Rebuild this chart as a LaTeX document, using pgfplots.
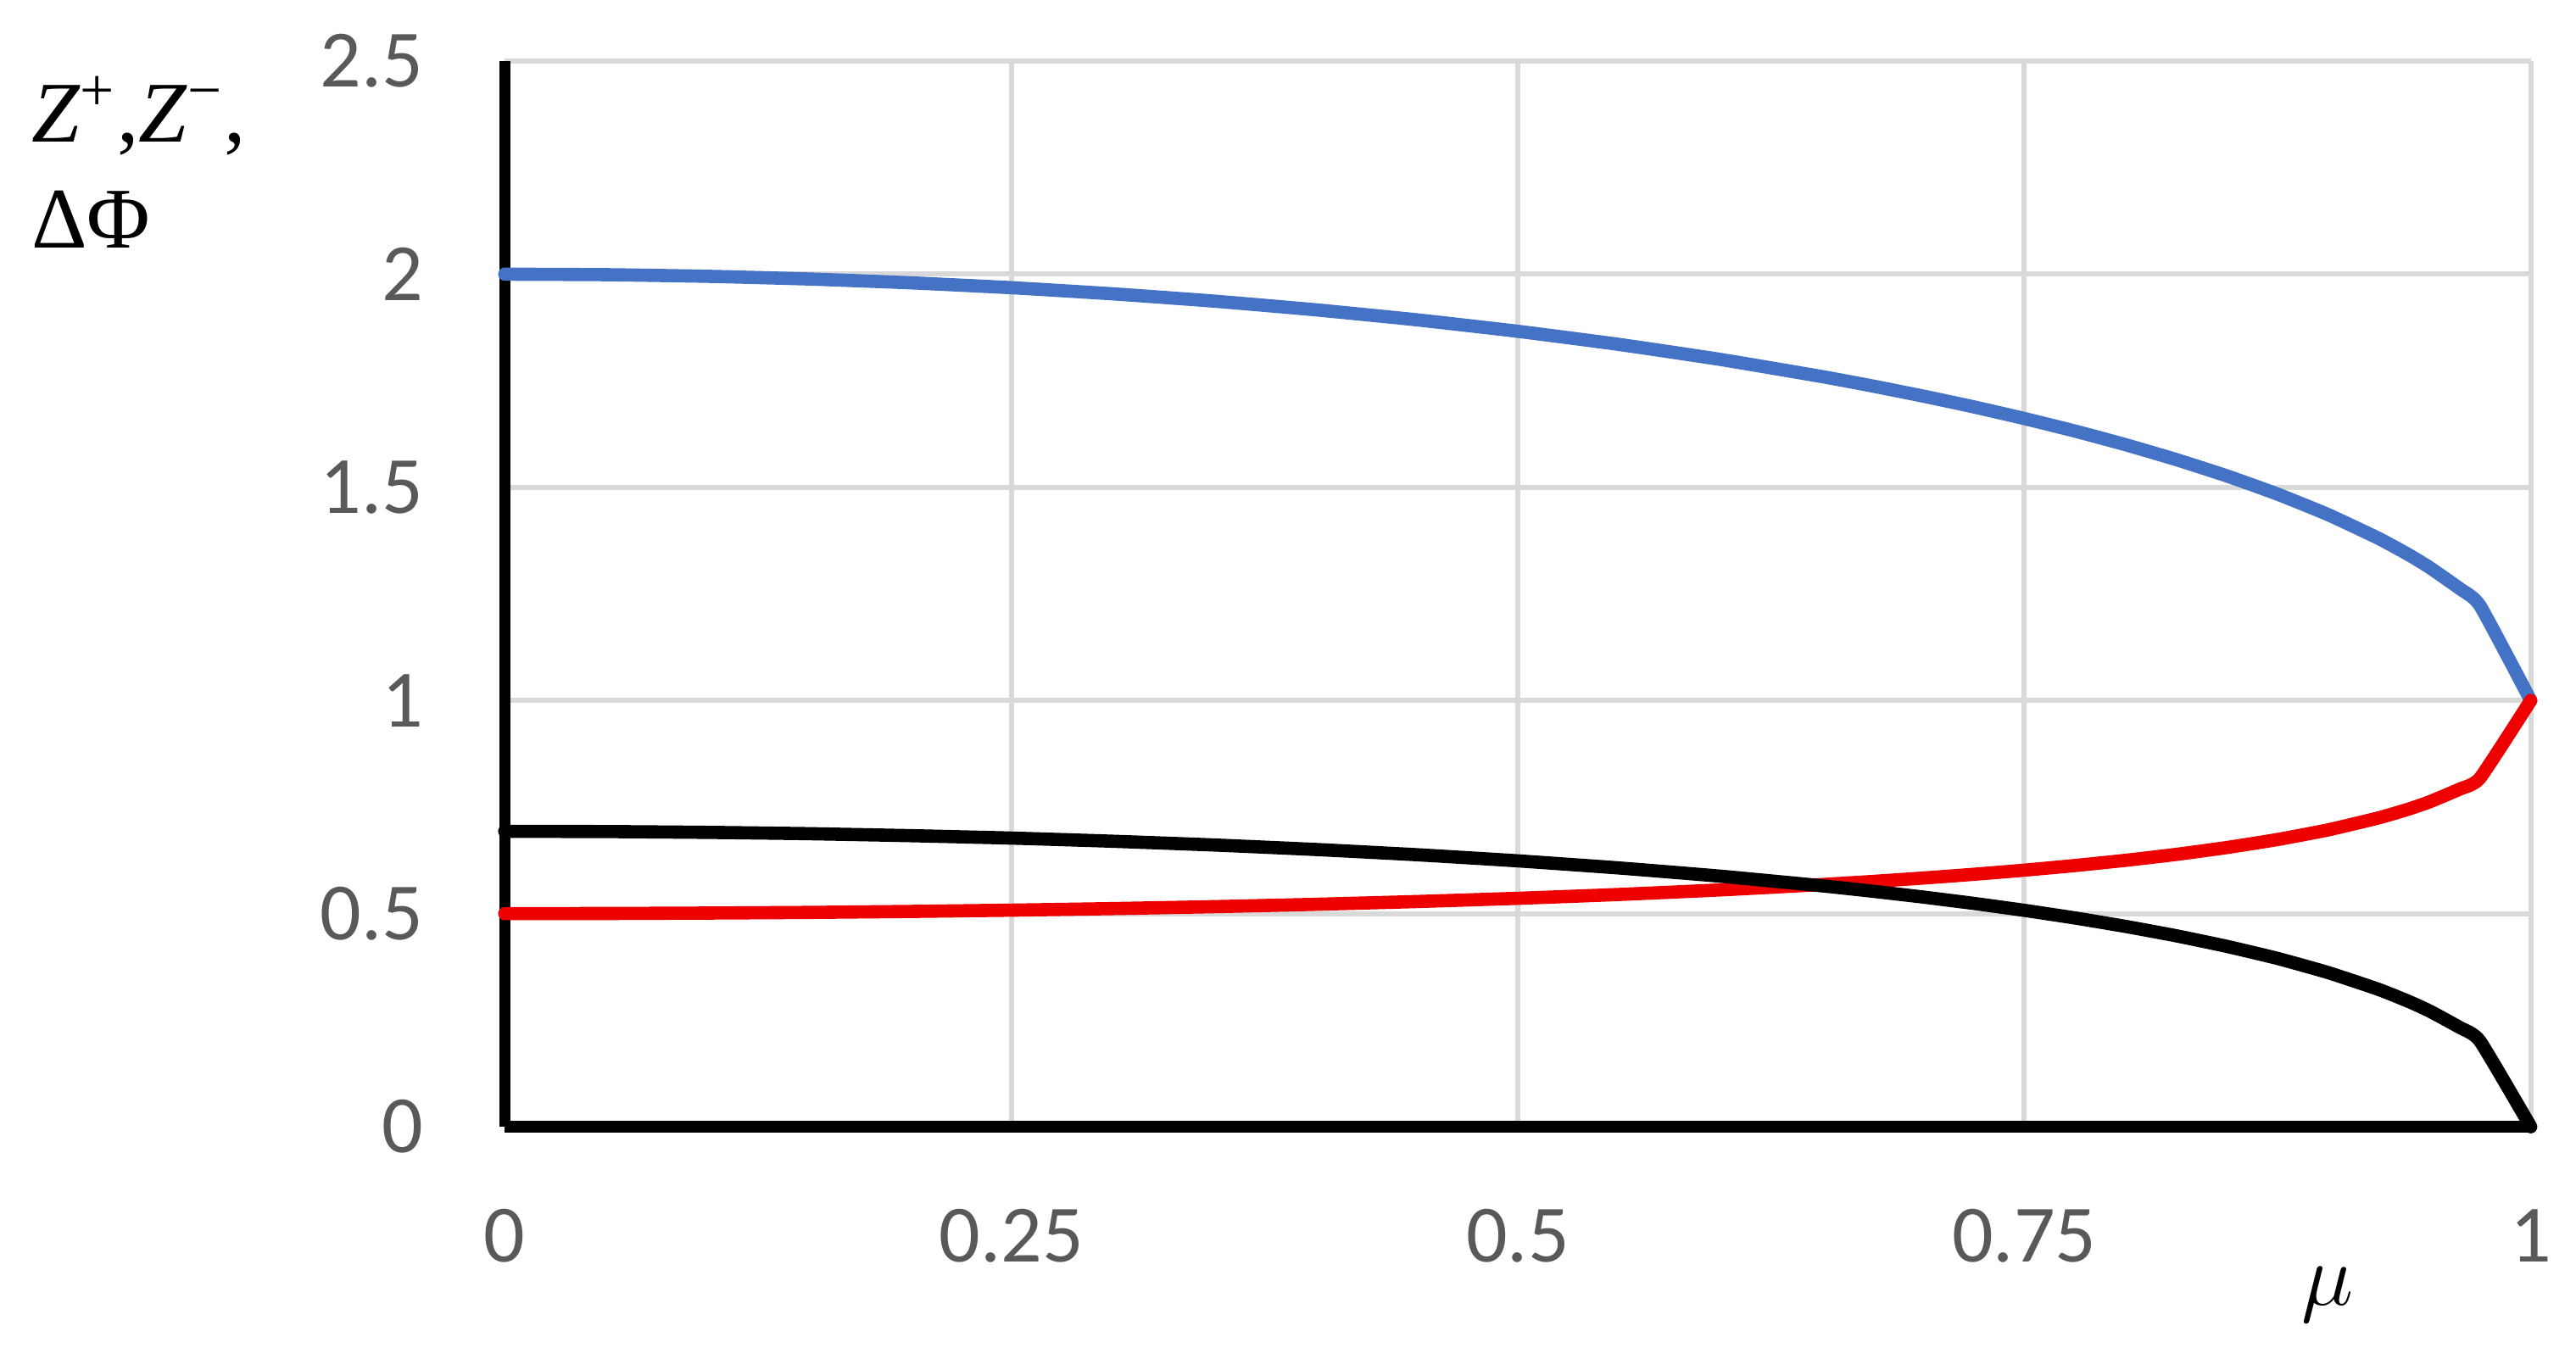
\documentclass[border=0pt]{standalone}
\usepackage{pgfplots}
\pgfplotsset{compat=1.18}
\usepackage{fontspec}
\setmainfont{Carlito}
\newfontfamily\serif{Liberation Serif}
\definecolor{exblue}{HTML}{4472C4}
\definecolor{exred}{HTML}{EE0000}
\definecolor{exgrid}{HTML}{D9D9D9}
\definecolor{extick}{HTML}{595959}
\begin{document}
\begin{tikzpicture}
\useasboundingbox (-99.2pt,-45.5pt) rectangle (407.1pt,221.5pt);
\begin{axis}[
  at={(0,0)}, anchor=south west,
  scale only axis, width=398.2pt, height=209.5pt,
  xmin=0, xmax=1, ymin=0, ymax=2.5,
  xtick={0,0.25,0.5,0.75,1},
  ytick={0,0.5,1,1.5,2,2.5},
  xticklabels={0,0.25,0.5,0.75,1},
  yticklabels={0,0.5,1,1.5,2,2.5},
  axis x line*=bottom, axis y line*=left,
  axis line style={black, line width=2.2pt, -},
  major tick length=0pt,
  grid=major,
  major grid style={exgrid, line width=1pt},
  tick label style={font=\fontsize{16}{18}\selectfont, text=extick, inner sep=0pt},
  xticklabel style={anchor=north, yshift=-16pt},
  yticklabel style={anchor=east, xshift=-15.8pt},
  clip=false,
  every axis plot/.append style={line width=2.6pt, line join=round, line cap=round, smooth, tension=0.3},
]
\addplot[exblue] coordinates {
(0,2.0000) (0.05,1.9988) (0.1,1.9950) (0.15,1.9887) (0.2,1.9798) (0.25,1.9683)
(0.3,1.9539) (0.35,1.9368) (0.4,1.9165) (0.45,1.8930) (0.5,1.8660) (0.55,1.8352)
(0.6,1.8000) (0.65,1.7599) (0.675,1.7378) (0.7,1.7141) (0.725,1.6888) (0.75,1.6614)
(0.775,1.6320) (0.8,1.6000) (0.825,1.5651) (0.85,1.5268) (0.875,1.4841)
(0.9,1.4359) (0.925,1.3800) (0.94,1.3412) (0.95,1.3122) (0.965,1.2622) (0.975,1.2222) (1,1.0000)};
\addplot[exred] coordinates {
(0,0.5000) (0.05,0.5003) (0.1,0.5013) (0.15,0.5028) (0.2,0.5051) (0.25,0.5081)
(0.3,0.5118) (0.35,0.5163) (0.4,0.5218) (0.45,0.5283) (0.5,0.5359) (0.55,0.5449)
(0.6,0.5556) (0.65,0.5682) (0.675,0.5754) (0.7,0.5834) (0.725,0.5922) (0.75,0.6019)
(0.775,0.6128) (0.8,0.6250) (0.825,0.6389) (0.85,0.6550) (0.875,0.6738)
(0.9,0.6964) (0.925,0.7247) (0.94,0.7456) (0.95,0.7621) (0.965,0.7922) (0.975,0.8182) (1,1.0000)};
\addplot[black] coordinates {
(0,0.6931) (0.05,0.6925) (0.1,0.6906) (0.15,0.6875) (0.2,0.6829) (0.25,0.6772)
(0.3,0.6698) (0.35,0.6610) (0.4,0.6505) (0.45,0.6382) (0.5,0.6238) (0.55,0.6071)
(0.6,0.5878) (0.65,0.5653) (0.675,0.5526) (0.7,0.5389) (0.725,0.5240) (0.75,0.5077)
(0.775,0.4898) (0.8,0.4700) (0.825,0.4480) (0.85,0.4232) (0.875,0.3949)
(0.9,0.3617) (0.925,0.3221) (0.94,0.2935) (0.95,0.2717) (0.965,0.2329) (0.975,0.2007) (1,0.0000)};
\end{axis}
\node[anchor=base west, inner sep=0pt, font=\serif\fontsize{17}{18}\selectfont] at (-93.2pt,193.5pt)
  {\textit{Z}\textsuperscript{+},\textit{Z}\textsuperscript{−},};
\node[anchor=base west, inner sep=0pt, font=\serif\fontsize{17}{18}\selectfont] at (-93.2pt,172.7pt) {ΔΦ};
\node[inner sep=0pt, font=\fontsize{18}{20}\selectfont] at (358.3pt,-33pt) {$\mu$};
\end{tikzpicture}
\end{document}
